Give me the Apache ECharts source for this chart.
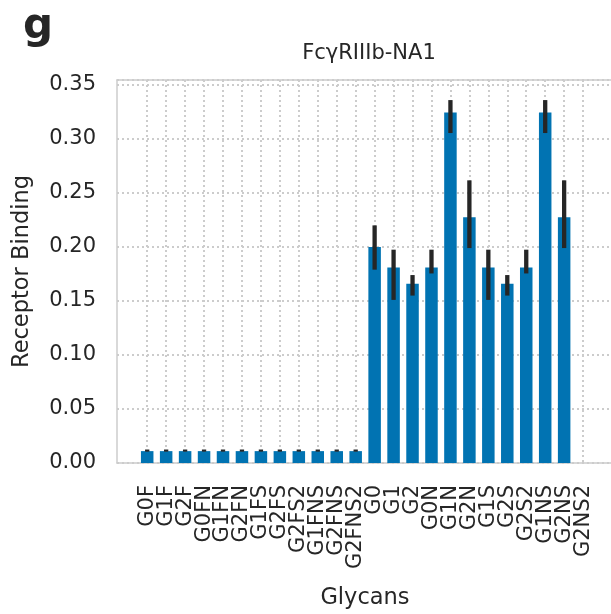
<!DOCTYPE html>
<html>
<head>
<meta charset="utf-8">
<script src="https://cdn.jsdelivr.net/npm/echarts@6/dist/echarts.min.js"></script>
<style>html,body{margin:0;padding:0;background:#fff;}#c{width:611px;height:614px;}</style>
</head>
<body>
<div id="c"></div>
<script>
const categories = ['G0F','G1F','G2F','G0FN','G1FN','G2FN','G1FS','G2FS','G2FS2','G1FNS','G2FNS','G2FNS2',
  'G0','G1','G2','G0N','G1N','G2N','G1S','G2S','G2S2','G1NS','G2NS','G2NS2'];
const values = [0.011,0.011,0.011,0.011,0.011,0.011,0.011,0.011,0.011,0.011,0.011,0.011,
  0.200,0.181,0.166,0.181,0.3245,0.2275,0.181,0.166,0.181,0.3245,0.2275,0];
const errLow = [0.0105,0.0105,0.0105,0.0105,0.0105,0.0105,0.0105,0.0105,0.0105,0.0105,0.0105,0.0105,
  0.179,0.151,0.155,0.1755,0.3055,0.199,0.151,0.155,0.1755,0.3055,0.199,null];
const errHigh = [0.0125,0.0125,0.0125,0.0125,0.0125,0.0125,0.0125,0.0125,0.0125,0.0125,0.0125,0.0125,
  0.220,0.1975,0.174,0.1975,0.336,0.2617,0.1975,0.174,0.1975,0.336,0.2617,null];
const yTicks = [0,0.05,0.10,0.15,0.20,0.25,0.30,0.35];
const titleText = 'FcγRIIIb-NA1';
const panelLetter = 'g';
const xName = 'Glycans';
const yName = 'Receptor Binding';

const FONT = 'DejaVu Sans';
const TXT = '#262626';
const GRIDC = '#cccccc';
const yMax = 0.3546;

const chart = echarts.init(document.getElementById('c'), null, {renderer: 'canvas'});
const errData = categories.map((c, i) => errLow[i] == null ? null : [i, errLow[i], errHigh[i]]);

chart.setOption({
  animation: false,
  backgroundColor: '#fff',
  title: [
    {text: titleText, left: 364, top: 38, textAlign: 'center',
      textStyle: {fontFamily: FONT, fontSize: 21, fontWeight: 'normal', color: TXT}},
    {text: panelLetter, left: 18, top: 1,
      textStyle: {fontFamily: FONT, fontSize: 42, fontWeight: 'bold', color: TXT}}
  ],
  grid: [
    {left: 117, right: -2, top: 80, bottom: 151, outerBoundsMode: 'none', containLabel: false},
    {left: 147.2, right: 27.9, top: 80, bottom: 151, outerBoundsMode: 'none', containLabel: false}
  ],
  xAxis: [
    {gridIndex: 0, type: 'value', min: 0, max: 1, position: 'bottom',
      axisLine: {show: true, lineStyle: {color: GRIDC, width: 1.5}},
      axisTick: {show: false}, axisLabel: {show: false}, splitLine: {show: false},
      name: xName, nameLocation: 'middle', nameGap: 124,
      nameTextStyle: {fontFamily: FONT, fontSize: 22.5, color: TXT}},
    {gridIndex: 1, type: 'category', data: categories, boundaryGap: false,
      axisLine: {show: false}, axisTick: {show: false},
      axisLabel: {rotate: 90, margin: 22, fontFamily: FONT, fontSize: 21, color: TXT, interval: 0},
      splitLine: {show: true, interval: 0, lineStyle: {color: GRIDC, width: 2, type: [2, 3]}}},
    {gridIndex: 0, type: 'value', min: 0, max: 1, position: 'top',
      axisLine: {show: true, lineStyle: {color: GRIDC, width: 1.5}},
      axisTick: {show: false}, axisLabel: {show: false}, splitLine: {show: false}}
  ],
  yAxis: [
    {gridIndex: 0, type: 'value', min: 0, max: yMax, interval: 0.05,
      axisLine: {show: true, lineStyle: {color: GRIDC, width: 1.5}},
      axisTick: {show: false},
      axisLabel: {margin: 21, fontFamily: FONT, fontSize: 21, color: TXT, showMaxLabel: false,
        formatter: v => yTicks.some(t => Math.abs(t - v) < 1e-9) ? v.toFixed(2) : ''},
      splitLine: {show: true, lineStyle: {color: GRIDC, width: 2, type: [2, 3]}},
      name: yName, nameLocation: 'middle', nameGap: 83,
      nameTextStyle: {fontFamily: FONT, fontSize: 22.5, color: TXT}},
    {gridIndex: 1, type: 'value', min: 0, max: yMax, show: false}
  ],
  series: [
    {type: 'bar', xAxisIndex: 1, yAxisIndex: 1, data: values, barWidth: '66%', clip: false,
      itemStyle: {color: '#0173b2'}, z: 2},
    {type: 'custom', xAxisIndex: 1, yAxisIndex: 1, data: errData, clip: false, z: 3,
      renderItem: function (params, api) {
        const lo = api.coord([api.value(0), api.value(1)]);
        const hi = api.coord([api.value(0), api.value(2)]);
        return {type: 'line', shape: {x1: lo[0], y1: lo[1], x2: hi[0], y2: hi[1]},
          style: {stroke: '#262626', lineWidth: 4.3}};
      }}
  ]
});
</script>
</body>
</html>
